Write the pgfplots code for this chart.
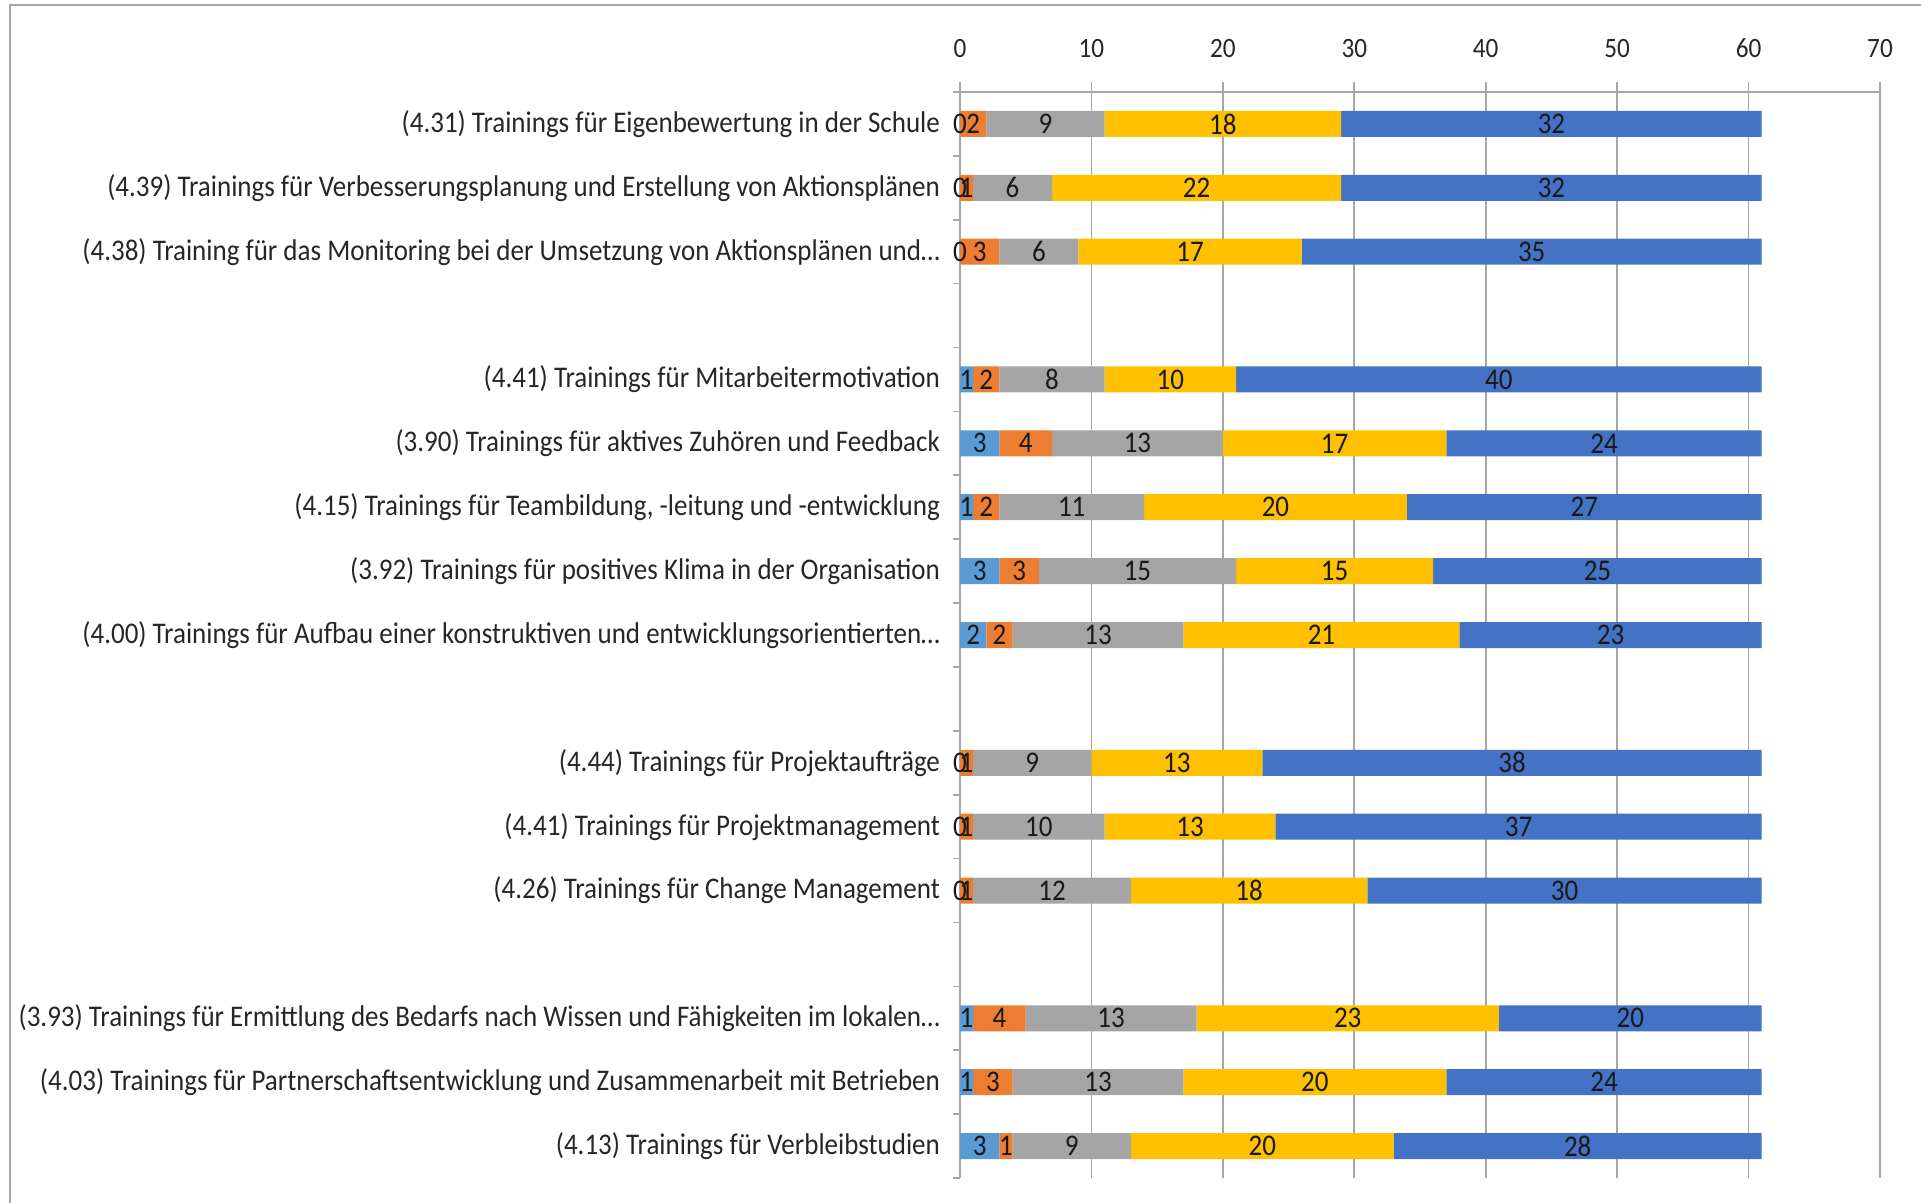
\documentclass[border=0pt]{standalone}
\usepackage{fontspec}
\setmainfont{Carlito}[FakeStretch=0.9]
\usepackage{pgfplots}
\pgfplotsset{compat=1.18}
\usepackage{pgfplotstable}
\definecolor{cA}{HTML}{5B9BD5}
\definecolor{cB}{HTML}{ED7D31}
\definecolor{cC}{HTML}{A5A5A5}
\definecolor{cD}{HTML}{FFC000}
\definecolor{cE}{HTML}{4472C4}
\definecolor{gridc}{HTML}{A6A6A6}
\pgfplotstableread{
pos v1 v2 v3 v4 v5
1 0 2 9 18 32
2 0 1 6 22 32
3 0 3 6 17 35
5 1 2 8 10 40
6 3 4 13 17 24
7 1 2 11 20 27
8 3 3 15 15 25
9 2 2 13 21 23
11 0 1 9 13 38
12 0 1 10 13 37
13 0 1 12 18 30
15 1 4 13 23 20
16 1 3 13 20 24
17 3 1 9 20 28
}\data
\newcommand{\lblfont}{\fontsize{15}{17}\selectfont}
\newcommand{\tickfont}{\fontsize{14}{16}\selectfont}
\pgfplotsset{
  geom/.style={
    at={(480pt,12.5pt)}, anchor=south west,
    scale only axis, width=460pt, height=543pt,
    xmin=0, xmax=70, ymin=0.5, ymax=17.5, y dir=reverse,
  },
  base/.style={geom, xbar stacked, bar width=13pt},
}
\begin{document}
\begin{tikzpicture}
\path[use as bounding box] (0,0) rectangle (960.5pt,601.5pt);
\draw[gray!70, line width=1.2pt] (5pt,0) -- (5pt,599pt) -- (960.5pt,599pt);
\begin{axis}[
  base,
  axis x line*=top, axis y line*=left,
  axis line style={gridc, line width=0.8pt, -},
  xtick={0,10,...,70},
  xmajorgrids, grid style={gridc, line width=0.8pt},
  tick align=outside,
  major tick length=5pt, minor tick length=3.5pt,
  major x tick style={gridc, line width=0.8pt},
  major y tick style={draw=none},
  minor y tick style={gridc, line width=0.8pt},
  minor ytick={0.5,1.5,...,17.5},
  ytick={1,2,3,5,6,7,8,9,11,12,13,15,16,17},
  yticklabels={
    (4.31) Trainings für Eigenbewertung in der Schule,
    (4.39) Trainings für Verbesserungsplanung und Erstellung von Aktionsplänen,
    (4.38) Training für das Monitoring bei der Umsetzung von Aktionsplänen und…,
    (4.41) Trainings für Mitarbeitermotivation,
    (3.90) Trainings für aktives Zuhören und Feedback,
    {(4.15) Trainings für Teambildung, -leitung und -entwicklung},
    (3.92) Trainings für positives Klima in der Organisation,
    (4.00) Trainings für Aufbau einer konstruktiven und entwicklungsorientierten…,
    (4.44) Trainings für Projektaufträge,
    (4.41) Trainings für Projektmanagement,
    (4.26) Trainings für Change Management,
    (3.93) Trainings für Ermittlung des Bedarfs nach Wissen und Fähigkeiten im lokalen…,
    (4.03) Trainings für Partnerschaftsentwicklung und Zusammenarbeit mit Betrieben,
    (4.13) Trainings für Verbleibstudien
  },
  yticklabel style={font=\lblfont, text=black!85, xshift=-1.5pt},
  xticklabel style={font=\tickfont, text=black!85, yshift=8.5pt},
  /pgf/number format/assume math mode=true,
]
\addplot[fill=cA, draw=none] table[x=v1, y=pos] {\data};
\addplot[fill=cB, draw=none] table[x=v2, y=pos] {\data};
\addplot[fill=cC, draw=none] table[x=v3, y=pos] {\data};
\addplot[fill=cD, draw=none] table[x=v4, y=pos] {\data};
\addplot[fill=cE, draw=none] table[x=v5, y=pos] {\data};
\end{axis}
\begin{axis}[
  base, hide axis,
  /pgf/number format/assume math mode=true,
  nodes near coords={\pgfmathprintnumber{\val}},
  every node near coord/.append style={anchor=center, font=\lblfont, text=black!90},
]
\addplot[fill=none, draw=none, visualization depends on={\thisrow{v1} \as \val}] table[x=v1, y=pos] {\data};
\addplot[fill=none, draw=none, visualization depends on={\thisrow{v2} \as \val}] table[x=v2, y=pos] {\data};
\addplot[fill=none, draw=none, visualization depends on={\thisrow{v3} \as \val}] table[x=v3, y=pos] {\data};
\addplot[fill=none, draw=none, visualization depends on={\thisrow{v4} \as \val}] table[x=v4, y=pos] {\data};
\addplot[fill=none, draw=none, visualization depends on={\thisrow{v5} \as \val}] table[x=v5, y=pos] {\data};
\end{axis}
\begin{axis}[
  geom, hide axis, clip=false,
  unbounded coords=discard,
]
\addplot[only marks, mark=none, x filter/.expression={x>0 ? nan : x},
  point meta=explicit symbolic, nodes near coords,
  every node near coord/.append style={anchor=center, font=\lblfont, text=black!90}]
  table[x=v1, y=pos, meta=v1] {\data};
\end{axis}
\end{tikzpicture}
\end{document}
